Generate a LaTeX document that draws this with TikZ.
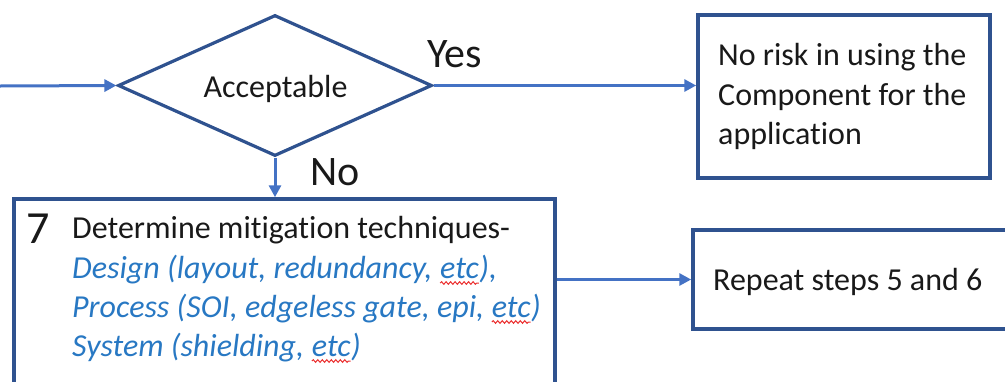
\documentclass[tikz,border=0pt]{standalone}
\usepackage{fontspec}
\setmainfont{Carlito}[Ligatures=NoCommon]
\usetikzlibrary{shapes.geometric,arrows.meta,decorations.pathmorphing}

\definecolor{edgeblue}{RGB}{47,82,143}
\definecolor{arrowblue}{RGB}{68,114,196}
\definecolor{italblue}{RGB}{40,120,195}
\definecolor{spellred}{RGB}{235,45,45}
\definecolor{inktext}{RGB}{25,25,25}

% word with a red wavy spelling underline
\newcommand\spellmark[1]{\tikz[baseline=(sw.base)]{%
  \node[inner sep=0pt,outer sep=0pt] (sw) {#1};%
  \draw[spellred,line width=1pt,decorate,
        decoration={snake,amplitude=1.3pt,segment length=4.5pt}]
        ([yshift=-5pt]sw.base west) -- ([yshift=-5pt]sw.base east);}}

\begin{document}
\begin{tikzpicture}[x=1pt,y=-1pt,
  box/.style={draw=edgeblue,line width=3.5pt,inner sep=0pt,rectangle},
  decision/.style={diamond,draw=edgeblue,line width=3.2pt,inner sep=0pt,
                   minimum width=314pt,minimum height=141pt},
  flow/.style={draw=arrowblue,line width=3pt,
               -{Triangle[length=12pt,width=12pt]}},
  txt/.style={font=\fontsize{32}{39}\selectfont,text=inktext,
              inner sep=0pt,anchor=base west},
  ital/.style={txt,font=\fontsize{32}{39}\selectfont\itshape,text=italblue},
  big/.style={font=\fontsize{42}{50}\selectfont,text=inktext,
              inner sep=0pt,anchor=base west}]

\useasboundingbox (0,0) rectangle (1005,381);
\clip (0,0) rectangle (1005,381);

% shapes
\node[decision] (dec) at (275,85.5) {};
\node[box,minimum width=292pt,minimum height=163pt] (ok) at (844,96.5) {};
\node[box,minimum width=541pt,minimum height=221pt] (mit) at (284.5,309.5) {};
\node[box,minimum width=322pt,minimum height=99pt] (rep) at (854,279.5) {};

% texts
\node[txt,anchor=base] (acc) at (275.5,97) {Acceptable};
\node[big] (yes) at (427,67) {Yes};
\node[big] (no) at (310,185) {No};

\node[txt] (ok1) at (718,65) {No risk in using the};
\node[txt] (ok2) at (718,105) {Component for the};
\node[txt] (ok3) at (718,144) {application};

\node[big,font=\fontsize{46}{50}\selectfont] (num) at (26,243) {7};
\node[txt] (m1) at (72,238) {Determine mitigation techniques-};
\node[ital] (m2) at (72,278) {Design (layout, redundancy, \spellmark{etc}),};
\node[ital] (m3) at (72,317) {Process (SOI, edgeless gate, epi, \spellmark{etc})};
\node[ital] (m4) at (72,356) {System (shielding, \spellmark{etc})};

\node[txt] (rp) at (713,290) {Repeat steps 5 and 6};

% connectors
\coordinate (src) at (0,86);
\draw[flow] (src) -- (dec.west);
\draw[flow] (dec.east) -- (dec.east -| ok.west);
\draw[flow] (dec.south) -- (dec.south |- mit.north);
\draw[flow] (rep.west -| mit.east) -- (rep.west);
\end{tikzpicture}
\end{document}
